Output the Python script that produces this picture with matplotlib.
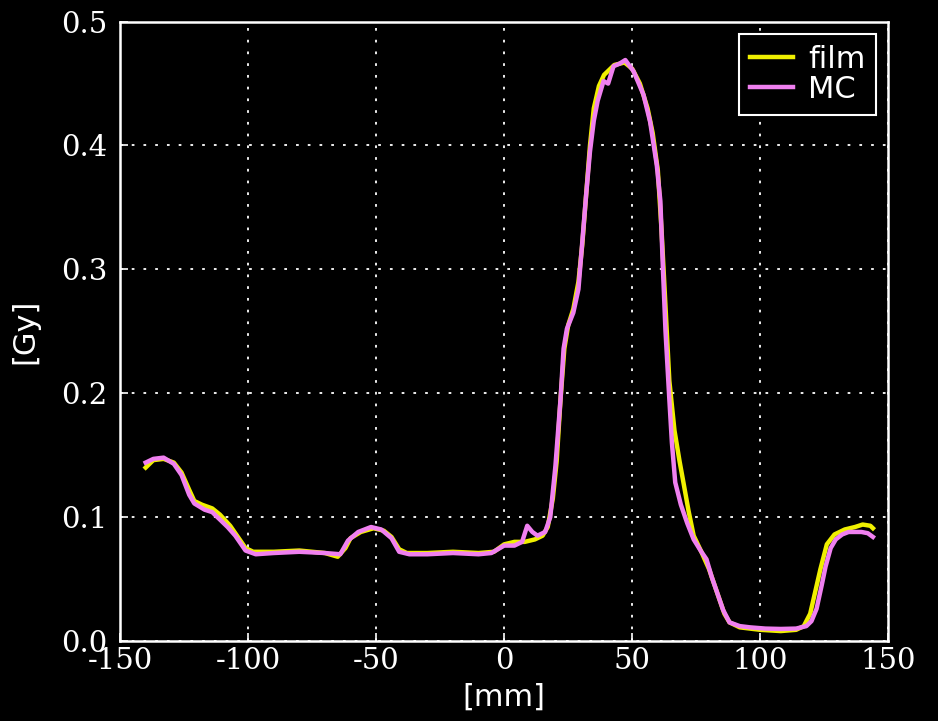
import matplotlib
matplotlib.use("Agg")
from matplotlib import pyplot as plt

# dose profile: position [mm], dose [Gy]
film_x = [-140, -137, -133, -129, -126, -123, -121, -118, -114, -111, -107, -104, -101, -98,
          -90, -80, -70, -65, -62, -60, -56, -51, -47, -44, -41, -38, -30, -20, -10, -4,
          0, 4, 8, 12, 15, 17, 19, 20.5, 22, 23.5, 25, 27, 29, 30.5, 32, 33.5, 35, 37, 39,
          43, 47, 50, 53, 56, 58, 60, 61.5, 63, 64.5, 66.5, 68.5, 70, 72, 74, 77, 80, 83,
          86, 88, 92, 100, 108, 114, 117, 119.5, 121.5, 123.5, 126, 129, 133, 137, 140, 143, 144]
film_y = [0.140, 0.146, 0.147, 0.144, 0.136, 0.122, 0.113, 0.110, 0.107, 0.102, 0.093, 0.084, 0.075, 0.072,
          0.072, 0.073, 0.071, 0.068, 0.075, 0.083, 0.088, 0.091, 0.089, 0.084, 0.074, 0.071, 0.071, 0.072, 0.071, 0.072,
          0.078, 0.080, 0.080, 0.082, 0.085, 0.092, 0.115, 0.145, 0.195, 0.236, 0.255, 0.268, 0.290, 0.320, 0.360, 0.400, 0.430, 0.448, 0.457,
          0.465, 0.467, 0.462, 0.450, 0.430, 0.410, 0.380, 0.330, 0.270, 0.210, 0.170, 0.145, 0.128, 0.105, 0.085, 0.072, 0.058, 0.040,
          0.022, 0.015, 0.011, 0.009, 0.008, 0.009, 0.012, 0.022, 0.040, 0.058, 0.078, 0.086, 0.090, 0.092, 0.094, 0.093, 0.091]

mc_x = [-140, -137, -133, -129, -126, -123, -121, -117, -114, -111, -108, -105, -101, -97,
        -90, -80, -70, -64, -61, -57, -52, -48, -44, -41, -37, -30, -20, -10, -5,
        0, 4, 7, 9, 11, 13, 16, 18, 20, 22, 23.2, 24.5, 27, 29, 30.3, 32, 33.5, 35, 36.5, 38.8,
        40.6, 42.7, 45, 47.3, 50.5, 54.4, 57, 59.6, 61, 62, 63, 64.5, 65.5, 66.8, 69, 71.5, 74, 77,
        79, 81, 83, 85.5, 88, 92, 96, 102, 108, 114, 118, 120, 122, 124, 125.5, 127.5, 129.5,
        132, 134.5, 139.5, 142, 144]
mc_y = [0.144, 0.147, 0.148, 0.143, 0.134, 0.118, 0.111, 0.106, 0.104, 0.098, 0.092, 0.085, 0.073, 0.070,
        0.071, 0.072, 0.071, 0.070, 0.081, 0.088, 0.092, 0.090, 0.083, 0.072, 0.070, 0.070, 0.071, 0.070, 0.071,
        0.077, 0.077, 0.080, 0.093, 0.088, 0.085, 0.088, 0.100, 0.141, 0.195, 0.236, 0.252, 0.265, 0.284, 0.317, 0.360, 0.395, 0.420, 0.436, 0.452,
        0.450, 0.464, 0.466, 0.469, 0.460, 0.441, 0.419, 0.384, 0.355, 0.300, 0.250, 0.195, 0.160, 0.128, 0.110, 0.095, 0.082, 0.072,
        0.066, 0.052, 0.040, 0.025, 0.015, 0.012, 0.011, 0.010, 0.0097, 0.010, 0.012, 0.016, 0.026, 0.045, 0.060, 0.075, 0.082,
        0.086, 0.088, 0.088, 0.087, 0.084]

x_ticks = [-150, -100, -50, 0, 50, 100, 150]
y_ticks = [0.0, 0.1, 0.2, 0.3, 0.4, 0.5]

plt.rcParams['axes.unicode_minus'] = False

fig = plt.figure(figsize=(9.38, 7.21), dpi=100, facecolor="black")
ax = fig.add_axes([0.128, 0.111, 0.819, 0.859], facecolor="black")

ax.plot(film_x, film_y, color="#f0f000", lw=3.2, label="film")
ax.plot(mc_x, mc_y, color="#f080f0", lw=3.2, label="MC")

ax.set_xlim(-150, 150)
ax.set_ylim(0, 0.5)
ax.set_xticks(x_ticks)
ax.set_yticks(y_ticks)
ax.set_xticklabels([str(t) for t in x_ticks], family="DejaVu Serif", fontsize=21)
ax.set_yticklabels(["%.1f" % t for t in y_ticks], family="DejaVu Serif", fontsize=21)
ax.tick_params(colors="white", direction="in", length=6, width=1.2)
ax.tick_params(axis="x", pad=4)
ax.tick_params(axis="y", pad=9)
for s in ax.spines.values():
    s.set_color("white")
    s.set_linewidth(1.8)

ax.grid(True, color="white", linestyle=(0, (1.5, 5)), linewidth=1.3)

ax.set_xlabel("[mm]", color="white", fontsize=22, labelpad=6)
ax.set_ylabel("[Gy]", color="white", fontsize=22, labelpad=16)

leg = ax.legend(loc="upper right", fontsize=22, handlelength=1.4, handletextpad=0.5,
                borderpad=0.35, labelspacing=0.05, fancybox=False, framealpha=1,
                borderaxespad=0.4)
leg.get_frame().set_facecolor("black")
leg.get_frame().set_edgecolor("white")
leg.get_frame().set_linewidth(1.5)
for t in leg.get_texts():
    t.set_color("white")

fig.savefig("out.png", dpi=100, facecolor="black")
